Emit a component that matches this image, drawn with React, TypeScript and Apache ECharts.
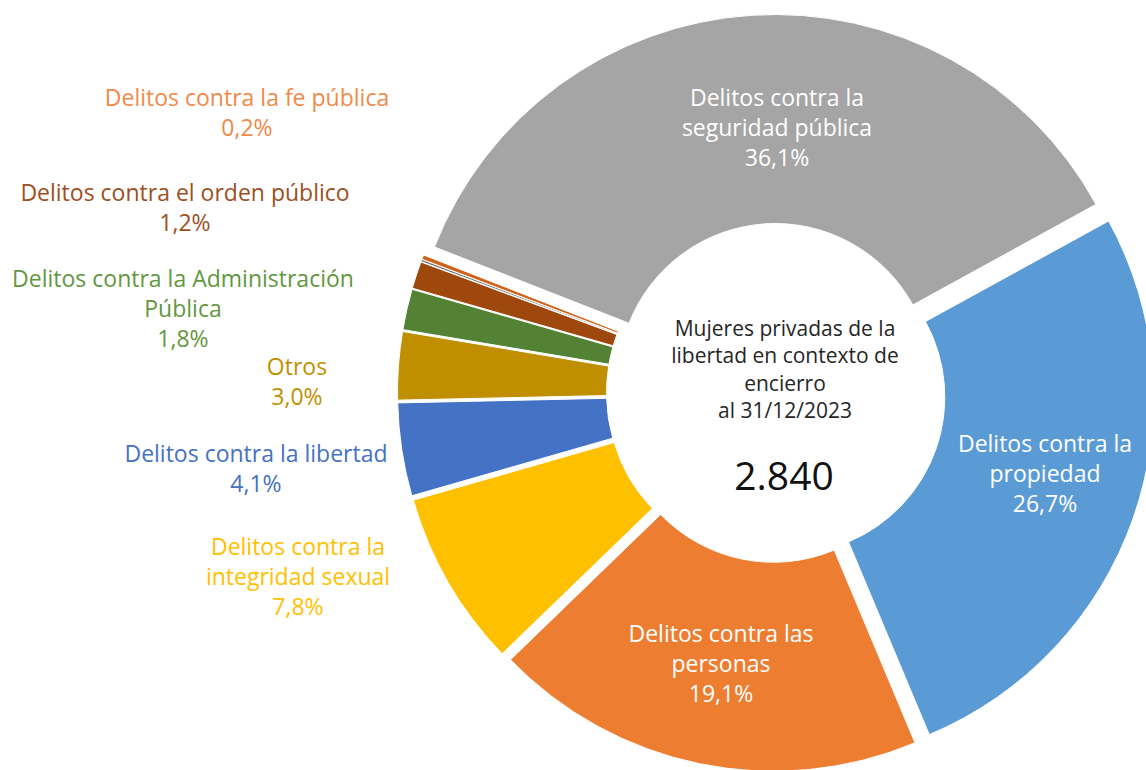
import React, { useEffect, useRef } from "react";
import * as echarts from "echarts";

// Categories in clockwise order, starting with the largest slice
const categories = [
  "Delitos contra la seguridad pública",
  "Delitos contra la propiedad",
  "Delitos contra las personas",
  "Delitos contra la integridad sexual",
  "Delitos contra la libertad",
  "Otros",
  "Delitos contra la Administración Pública",
  "Delitos contra el orden público",
  "",
  "Delitos contra la fe pública",
];
// Share of women deprived of liberty (%)
const shares = [36.1, 26.7, 19.1, 7.8, 4.1, 3.0, 1.8, 1.2, 0.1, 0.2];
// How each label wraps
const labelLines = [
  ["Delitos contra la", "seguridad pública"],
  ["Delitos contra la", "propiedad"],
  ["Delitos contra las", "personas"],
  ["Delitos contra la", "integridad sexual"],
  ["Delitos contra la libertad"],
  ["Otros"],
  ["Delitos contra la Administración", "Pública"],
  ["Delitos contra el orden público"],
  [],
  ["Delitos contra la fe pública"],
];
const centerTitle = ["Mujeres privadas de la", "libertad en contexto de", "encierro", "al 31/12/2023"];
const centerTotal = "2.840";

// Styling
const sliceColors = ["#A5A5A5", "#5B9BD5", "#ED7D31", "#FFC000", "#4472C4", "#BF8F00", "#548235", "#9E480E", "#6F6F6F", "#D0631A"];
const labelColors = ["#FFFFFF", "#FFFFFF", "#FFFFFF", "#FFC000", "#4472C4", "#BF9000", "#62973F", "#9E4F1E", "#6F6F6F", "#F08A48"];
const labelAnchors: (number[] | null)[] = [
  [777, 127], [1045, 473], [721, 663], [298, 576], [256, 468],
  [297, 381], [183, 308], [185, 207], null, [247, 112],
];

const fmtPct = (v: number) => v.toFixed(1).replace(".", ",") + "%";

export default function App() {
  const ref = useRef<HTMLDivElement>(null);
  useEffect(() => {
    if (!ref.current) return;
    const chart = echarts.init(ref.current, undefined, { renderer: "svg" });
    const font = "'Open Sans', 'Noto Sans', sans-serif";
    const data = categories.map((name, i) => ({
      name,
      value: shares[i],
      selected: true,
      itemStyle: { color: sliceColors[i] },
    }));
    const labelTexts: any[] = [];
    categories.forEach((_, i) => {
      const p = labelAnchors[i];
      if (!p || labelLines[i].length === 0) return;
      labelTexts.push({
        type: "text",
        x: p[0],
        y: p[1],
        z: 10,
        style: {
          text: [...labelLines[i], fmtPct(shares[i])].join("\n"),
          fontFamily: font,
          fontSize: 23,
          lineHeight: 30,
          fill: labelColors[i],
          align: "center",
          verticalAlign: "middle",
        },
      });
    });
    chart.setOption({
      animation: false,
      backgroundColor: "#FFFFFF",
      series: [
        {
          type: "pie",
          center: [776, 393],
          radius: [157, 366],
          startAngle: 158.6,
          clockwise: true,
          selectedMode: "multiple",
          selectedOffset: 12.5,
          avoidLabelOverlap: false,
          emphasis: { disabled: true, scale: false },
          itemStyle: { borderColor: "#FFFFFF", borderWidth: 1 },
          select: { itemStyle: { borderColor: "#FFFFFF", borderWidth: 1 } },
          label: { show: false },
          labelLine: { show: false },
          data,
        },
      ],
      graphic: [
        ...labelTexts,
        {
          type: "text",
          x: 785,
          y: 369,
          z: 10,
          style: {
            text: centerTitle.join("\n"),
            fontFamily: font,
            fontSize: 21,
            lineHeight: 27.5,
            fill: "#262626",
            align: "center",
            verticalAlign: "middle",
          },
        },
        {
          type: "text",
          x: 784,
          y: 474,
          z: 10,
          style: {
            text: centerTotal,
            fontFamily: font,
            fontSize: 39,
            fill: "#111111",
            align: "center",
            verticalAlign: "middle",
          },
        },
      ],
    });
    return () => chart.dispose();
  }, []);
  return (
    <div
      ref={ref}
      style={{ position: "absolute", left: 0, top: 0, width: 1146, height: 770 }}
    />
  );
}
